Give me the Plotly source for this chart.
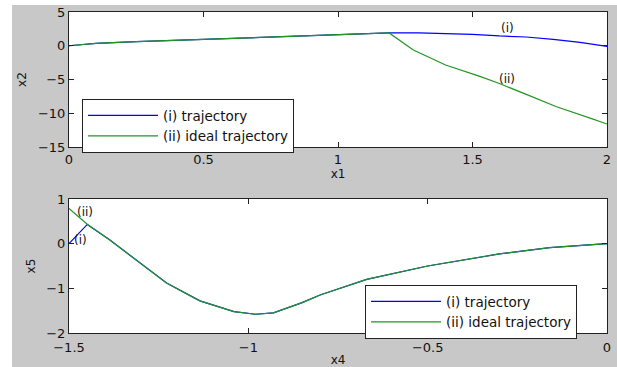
import plotly.graph_objects as go

# ---- data ----
x1_traj = [0, 0.1, 0.25, 0.5, 0.75, 1.0, 1.19, 1.3, 1.4, 1.5, 1.6, 1.7, 1.8, 1.9, 2.0]
x2_traj = [0, 0.35, 0.6, 0.95, 1.3, 1.65, 1.9, 1.9, 1.8, 1.7, 1.45, 1.3, 0.95, 0.5, -0.1]

x1_ideal = [0, 0.1, 0.25, 0.5, 0.75, 1.0, 1.19, 1.28, 1.4, 1.53, 1.6, 1.7, 1.81, 1.94, 2.0]
x2_ideal = [0, 0.35, 0.6, 0.95, 1.3, 1.65, 1.9, -0.63, -2.85, -4.58, -5.6, -7.2, -9.0, -10.75, -11.6]

x4_ideal = [-1.5, -1.45, -1.386, -1.3, -1.228, -1.135, -1.04, -0.98, -0.93, -0.85, -0.8, -0.67, -0.5, -0.3, -0.16, 0]
x5_ideal = [0.79, 0.44, 0.08, -0.45, -0.88, -1.28, -1.52, -1.58, -1.55, -1.32, -1.15, -0.80, -0.50, -0.23, -0.09, 0.0]

x4_traj = [-1.5, -1.449, -1.386, -1.3, -1.228, -1.135, -1.04, -0.98, -0.93, -0.85, -0.8, -0.67, -0.5, -0.3, -0.16, 0]
x5_traj = [0.0, 0.43, 0.08, -0.45, -0.88, -1.28, -1.52, -1.58, -1.55, -1.32, -1.15, -0.80, -0.50, -0.23, -0.09, 0.0]

names = ["(i) trajectory", "(ii) ideal trajectory"]
top_xticks = [0, 0.5, 1, 1.5, 2]
top_yticks = [-15, -10, -5, 0, 5]
bot_xticks = [-1.5, -1, -0.5, 0]
bot_yticks = [-2, -1, 0, 1]

W, H = 617, 367
BLUE = "#0000ff"
GREEN = "#229522"
GRAY = "#c8c8c8"
FONT = "DejaVu Sans"

fig = go.Figure()
fig.add_trace(go.Scatter(x=x1_traj, y=x2_traj, mode="lines", name=names[0],
                         line=dict(color=BLUE, width=1.2), xaxis="x", yaxis="y", legend="legend"))
fig.add_trace(go.Scatter(x=x1_ideal, y=x2_ideal, mode="lines", name=names[1],
                         line=dict(color=GREEN, width=1.2), xaxis="x", yaxis="y", legend="legend"))
fig.add_trace(go.Scatter(x=x4_traj, y=x5_traj, mode="lines", name=names[0],
                         line=dict(color=BLUE, width=1.2), xaxis="x2", yaxis="y2", legend="legend2"))
fig.add_trace(go.Scatter(x=x4_ideal, y=x5_ideal, mode="lines", name=names[1],
                         line=dict(color=GREEN, width=1.2), xaxis="x2", yaxis="y2", legend="legend2"))

xd = [69 / W, 607 / W]
top_dom = [1 - 147 / H, 1 - 12 / H]
bot_dom = [1 - 333 / H, 1 - 199 / H]

axis_common = dict(showgrid=False, zeroline=False, showline=True, linecolor="#222222",
                   linewidth=1, mirror="allticks", ticks="inside", ticklen=5, automargin=False,
                   tickcolor="#222222", tickfont=dict(family=FONT, size=13, color="#111111"))

leg_common = dict(xanchor="left", yanchor="top", bgcolor="white", bordercolor="#222222",
                  borderwidth=1, font=dict(family=FONT, size=13.5, color="#111111"),
                  itemwidth=70, tracegroupgap=0)

fig.update_layout(
    width=W, height=H, autosize=False,
    margin=dict(l=0, r=0, t=0, b=0, pad=0),
    paper_bgcolor=GRAY, plot_bgcolor="white",
    font=dict(family=FONT, size=12, color="#111111"),
    xaxis=dict(domain=xd, range=[0, 2], tickvals=top_xticks, anchor="y",
               title=dict(text="x1", standoff=2, font=dict(size=12)), **axis_common),
    yaxis=dict(domain=top_dom, range=[-15, 5], tickvals=top_yticks, anchor="x",
               title=dict(text="x2", standoff=8, font=dict(size=12)), **axis_common),
    xaxis2=dict(domain=xd, range=[-1.5, 0], tickvals=bot_xticks, anchor="y2",
                ticklabelstandoff=2,
                title=dict(text="x4", standoff=6, font=dict(size=12)), **axis_common),
    yaxis2=dict(domain=bot_dom, range=[-2, 1], tickvals=bot_yticks, anchor="x2",
                title=dict(text="x5", standoff=8, font=dict(size=12)), **axis_common),
    legend=dict(x=82 / W, y=1 - 99 / H, **leg_common),
    legend2=dict(x=365 / W, y=1 - 285 / H, **leg_common),
    showlegend=True,
)

# white strips outside the grey figure area
fig.add_shape(type="rect", xref="paper", yref="paper", x0=0, x1=12 / W, y0=0, y1=1,
              fillcolor="white", line=dict(width=0), layer="below")
fig.add_shape(type="rect", xref="paper", yref="paper", x0=0, x1=1, y0=1 - 5 / H, y1=1,
              fillcolor="white", line=dict(width=0), layer="below")

ann = dict(showarrow=False, font=dict(family=FONT, size=12, color="#111111"))
fig.add_annotation(x=1.63, y=2.6, xref="x", yref="y", text="(i)", **ann)
fig.add_annotation(x=1.63, y=-4.9, xref="x", yref="y", text="(ii)", **ann)
fig.add_annotation(x=-1.456, y=0.72, xref="x2", yref="y2", text="(ii)", **ann)
fig.add_annotation(x=-1.467, y=0.08, xref="x2", yref="y2", text="(i)", **ann)

fig.write_html("out.html")
